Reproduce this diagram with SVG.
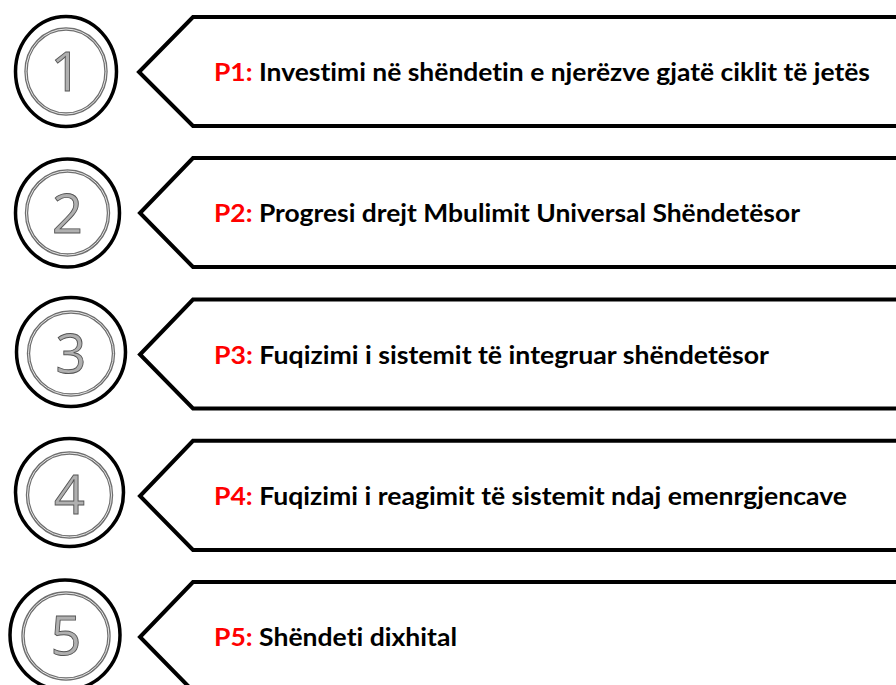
<svg xmlns="http://www.w3.org/2000/svg" width="896" height="685" viewBox="0 0 896 685">
<style>
.tag{fill:#ffffff;stroke:#000000;stroke-width:4;stroke-linejoin:miter}
.outer{fill:#ffffff;stroke:#000000;stroke-width:3.5}
.inner1{fill:none;stroke:#6e6e6e;stroke-width:3.4}
.inner2{fill:none;stroke:#e6e6e6;stroke-width:1}
.num{font-family:"Open Sans","Noto Sans","Liberation Sans",sans-serif;font-size:54px;fill:#b0b0b0;stroke:#555555;stroke-width:0.9;text-anchor:middle}
.lbl{font-family:Lato,"Open Sans","Liberation Sans",sans-serif;font-weight:bold;font-size:24px;fill:#000000;font-variant-ligatures:none}
.p{fill:#ff0000}
</style>
<rect width="896" height="685" fill="#ffffff"/>
<g id="connectors"></g>
<g id="node1">
<ellipse class="outer" cx="66" cy="71.5" rx="50.5" ry="55"/>
<ellipse class="inner1" cx="66" cy="71.5" rx="40" ry="42.5"/>
<ellipse class="inner2" cx="66" cy="71.5" rx="40" ry="42.5"/>
<text class="num" x="66" y="91">1</text>
<path class="tag" d="M902 17 H193 L139 72 L193 126 H902"/>
<text class="lbl" x="214" y="81" textLength="656" lengthAdjust="spacingAndGlyphs"><tspan class="p">P1:</tspan> Investimi në shëndetin e njerëzve gjatë ciklit të jetës</text>
</g>
<g id="node2">
<ellipse class="outer" cx="67.5" cy="213" rx="52" ry="54"/>
<ellipse class="inner1" cx="67.5" cy="213" rx="41" ry="42"/>
<ellipse class="inner2" cx="67.5" cy="213" rx="41" ry="42"/>
<text class="num" x="67.5" y="232.5">2</text>
<path class="tag" d="M902 158 H193 L140 213 L193 267 H902"/>
<text class="lbl" x="214" y="222" textLength="586" lengthAdjust="spacingAndGlyphs"><tspan class="p">P2:</tspan> Progresi drejt Mbulimit Universal Shëndetësor</text>
</g>
<g id="node3">
<ellipse class="outer" cx="71" cy="352" rx="54.5" ry="54.5"/>
<ellipse class="inner1" cx="71" cy="353.5" rx="42.5" ry="41.5"/>
<ellipse class="inner2" cx="71" cy="353.5" rx="42.5" ry="41.5"/>
<text class="num" x="71" y="373">3</text>
<path class="tag" d="M902 299.5 H193 L140 354.5 L193 408.5 H902"/>
<text class="lbl" x="214" y="363.5" textLength="555" lengthAdjust="spacingAndGlyphs"><tspan class="p">P3:</tspan> Fuqizimi i sistemit të integruar shëndetësor</text>
</g>
<g id="node4">
<ellipse class="outer" cx="69.5" cy="492.5" rx="54" ry="54"/>
<ellipse class="inner1" cx="69.5" cy="495" rx="42" ry="42"/>
<ellipse class="inner2" cx="69.5" cy="495" rx="42" ry="42"/>
<text class="num" x="69.5" y="514">4</text>
<path class="tag" d="M902 440.75 H193 L140 496 L193 550 H902"/>
<text class="lbl" x="214" y="505" textLength="633" lengthAdjust="spacingAndGlyphs"><tspan class="p">P4:</tspan> Fuqizimi i reagimit të sistemit ndaj emenrgjencave</text>
</g>
<g id="node5">
<ellipse class="outer" cx="65" cy="635" rx="55" ry="55"/>
<ellipse class="inner1" cx="66" cy="636" rx="43" ry="43"/>
<ellipse class="inner2" cx="66" cy="636" rx="43" ry="43"/>
<text class="num" x="66" y="655">5</text>
<path class="tag" d="M902 582 H193 L140 637 L193 691 H902"/>
<text class="lbl" x="214" y="646" textLength="243" lengthAdjust="spacingAndGlyphs"><tspan class="p">P5:</tspan> Shëndeti dixhital</text>
</g>
</svg>
